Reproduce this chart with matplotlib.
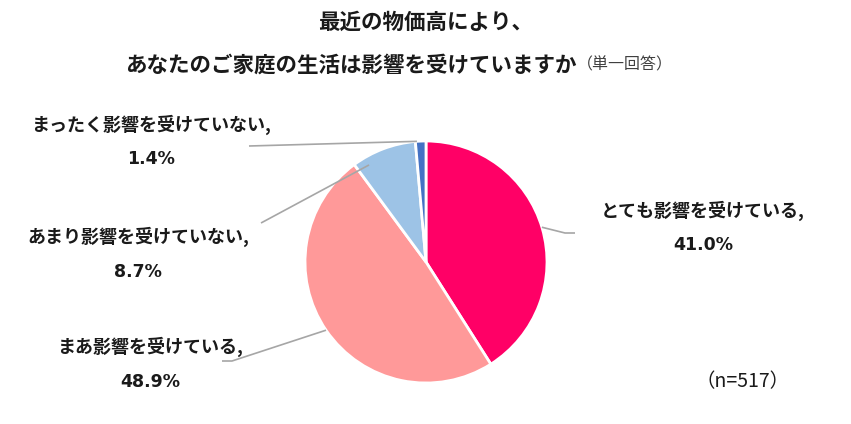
import numpy as np
import matplotlib
matplotlib.use("Agg")
import matplotlib.pyplot as plt

plt.rcParams['font.family'] = ['Noto Sans CJK JP', 'DejaVu Sans']

# ---- data ----
categories = ["とても影響を受けている", "まあ影響を受けている", "あまり影響を受けていない", "まったく影響を受けていない"]
values = [41.0, 48.9, 8.7, 1.4]
colors = ["#FF0066", "#FF9999", "#9DC3E6", "#4472C4"]
title1 = "最近の物価高により、"
title2 = "あなたのご家庭の生活は影響を受けていますか"
title_note = "（単一回答）"
n_note = "（n=517）"

W, H = 851, 424
fig = plt.figure(figsize=(W / 100, H / 100), dpi=100)
ax = fig.add_axes([0, 0, 1, 1])
ax.set_xlim(0, W)
ax.set_ylim(0, H)
ax.set_aspect('equal')
ax.axis('off')

def py(y):
    return H - y

cx, cy, R = 426, 262, 121
wedges, _ = ax.pie(values, colors=colors, startangle=90, counterclock=False,
                   center=(cx, py(cy)), radius=R,
                   wedgeprops=dict(edgecolor='white', linewidth=2))
ax.set_xlim(0, W)
ax.set_ylim(0, H)

# label layout: (text center x, text y, percent y, leader anchor angle deg, anchor radius frac, leader points)
layout = [
    (703, 211, 245, 16.7, 1.0, [(565, 233), (575, 233)]),
    (150, 347, 382, 214.3, 1.0, [(232, 361), (222, 361)]),
    (138, 237, 272, 120.4, 0.93, [(261, 223)]),
    (151, 125, 159, 94.3, 1.0, [(249, 146)]),
]

for cat, val, (tx, ty, pyv, ang, rf, pts) in zip(categories, values, layout):
    a = np.deg2rad(ang)
    sx = cx + R * rf * np.cos(a)
    sy = py(cy) + R * rf * np.sin(a)
    xs = [sx] + [p[0] for p in pts]
    ys = [sy] + [py(p[1]) for p in pts]
    ax.plot(xs, ys, color='#A6A6A6', lw=1.2, solid_capstyle='butt')
    ax.text(tx, py(ty), cat + ",", ha='center', va='center', fontsize=13,
            fontweight='bold', color='#1a1a1a')
    ax.text(tx, py(pyv), f"{val:.1f}%", ha='center', va='center', fontsize=12.5,
            fontweight='bold', color='#1a1a1a', family=['DejaVu Sans'])

ax.text(426, py(22), title1, ha='center', va='center', fontsize=15.5,
        fontweight='bold', color='#1a1a1a')
ax.text(577, py(65), title2, ha='right', va='center', fontsize=15.5,
        fontweight='bold', color='#1a1a1a')
ax.text(577, py(65), title_note, ha='left', va='center', fontsize=11.5,
        color='#404040')
ax.text(743, py(382), n_note, ha='center', va='center', fontsize=14,
        color='#1a1a1a')

fig.savefig("out.png", dpi=100, facecolor='white')
